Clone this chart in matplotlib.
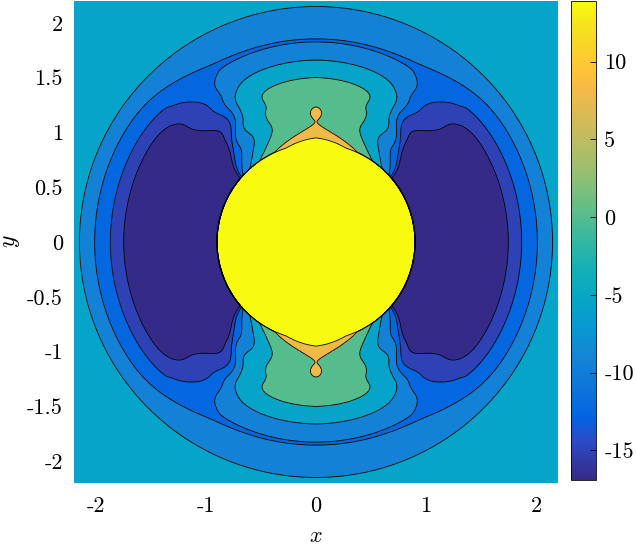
import numpy as np
import matplotlib
matplotlib.use("Agg")
import matplotlib.pyplot as plt
from matplotlib.colors import LinearSegmentedColormap, Normalize
from matplotlib.cm import ScalarMappable

# parula anchors (index out of 63 -> rgb)
parula_idx = [0, 5, 8, 12, 16, 20, 24, 28, 32, 36, 40, 44, 48, 52, 54, 56, 58, 60, 63]
parula_rgb = [
    (0.2081, 0.1663, 0.5292), (0.1707, 0.2919, 0.7792), (0.0117, 0.3875, 0.8820),
    (0.0498, 0.4586, 0.8641), (0.0793, 0.5200, 0.8312), (0.0343, 0.5966, 0.8199),
    (0.0228, 0.6535, 0.7768), (0.0843, 0.6928, 0.7062), (0.2178, 0.7250, 0.6193),
    (0.3953, 0.7459, 0.5244), (0.5709, 0.7485, 0.4494), (0.7184, 0.7411, 0.3905),
    (0.8507, 0.7299, 0.3360), (0.9739, 0.7314, 0.2666), (0.9990, 0.7653, 0.2164),
    (0.9880, 0.8066, 0.1794), (0.9697, 0.8481, 0.1475), (0.9589, 0.8949, 0.1132),
    (0.9763, 0.9831, 0.0538),
]
parula = LinearSegmentedColormap.from_list(
    "parula", [(i / 63, c) for i, c in zip(parula_idx, parula_rgb)])

# colour range and contour levels
v_min, v_max = -16.9, 13.9
levels = [-15, -12.5, -9.5, -5.5, 0, 8, 13.5]
band_values = [-16.9, -15, -12.5, -9.5, -5.5, 0, 8, 13.9]
cbar_ticks = [-15, -10, -5, 0, 5, 10]
x_ticks = [-2, -1, 0, 1, 2]
y_ticks = [-2, -1.5, -1, -0.5, 0, 0.5, 1, 1.5, 2]

# field shape parameters (estimated from the contours)
disc_r, outer_r = 0.9, 2.15
base_low, base_rise, ring_r, ring_w = -17.0, 9.5, 1.88, 0.1
far_amp, far_len, far_pow = 24.5, 0.8, 3.4
near_amp, near_len = 13.0, 0.065
bubble_amp, bubble_y, bubble_w = 4.0, 1.185, 0.05
outer_jump = 5.0


def sig(z):
    return 0.5 * (1 + np.tanh(0.5 * z))


def smooth(z):
    z = np.clip(z, 0, 1)
    return z * z * (3 - 2 * z)


n = 1400
grid = np.linspace(-2.2, 2.2, n)
X, Y = np.meshgrid(grid, grid)
r = np.hypot(X, Y)
phi = np.degrees(np.arctan2(np.abs(Y), np.abs(X)))
u = np.clip(r - disc_r, 0, None)

base = base_low + base_rise * sig((r - ring_r) / ring_w)
t_far = far_amp * np.exp(-(u / far_len) ** far_pow)
t_near = near_amp * np.exp(-u / near_len)
wiggle = 0.6 * np.exp(-((r - 1.94) / 0.07) ** 2) - 1.0 * np.exp(-((r - 1.84) / 0.025) ** 2)

# broad angular ramp towards the y axis (with a waist near r = 1.1)
c2 = 59 + 4 * np.exp(-((r - 1.1) / 0.1) ** 2) - 24 * smooth((r - 1.29) / 0.3)
s2 = sig((phi - c2) / 12) / sig((90 - c2) / 12)
# sharp edge of the side lobes, with a soft shoulder above them
c1 = 41 + 17 * smooth((r - 0.9) / 0.55) - 10 * smooth((r - 1.55) / 0.3)
w1 = 0.8 + 4 * ((r - 0.9) / 0.8) ** 2
foot = 0.25 * smooth((r - 0.95) / 0.3)
s1 = foot * sig((phi - 40) / 3) + (1 - foot) * sig((phi - c1) / w1)

bubble = bubble_amp * np.exp(-((X / bubble_w) ** 2 + ((np.abs(Y) - bubble_y) / bubble_w) ** 2))

f = base + (t_far + t_near + wiggle) * s1 * s2 + bubble
f = f + outer_jump * sig((r - outer_r) / 0.004)
f = np.where(r < disc_r, v_max, f)
f = np.clip(f, v_min, v_max)

plt.rcParams["font.family"] = "cmr10"
plt.rcParams["mathtext.fontset"] = "cm"
plt.rcParams["axes.unicode_minus"] = False
plt.rcParams["axes.formatter.use_mathtext"] = False

norm = Normalize(v_min, v_max)
band_colors = [parula(norm(v)) for v in band_values]

fig = plt.figure(figsize=(6.36, 5.46), dpi=100)
ax = fig.add_axes([74 / 636, 1 - 483 / 546, 484 / 636, 482 / 546])
cax = fig.add_axes([571 / 636, 1 - 480 / 546, 25 / 636, 479 / 546])

ax.contourf(X, Y, f, levels=[v_min - 1] + levels + [v_max + 1], colors=band_colors)
ax.contour(X, Y, f, levels=levels, colors="black", linewidths=0.6,
           linestyles="solid")

ax.set_xlim(-2.2, 2.2)
ax.set_ylim(-2.2, 2.2)
ax.set_xticks(x_ticks)
ax.set_xticklabels([f"{t:g}" for t in x_ticks])
ax.set_yticks(y_ticks)
ax.set_yticklabels([f"{t:g}" for t in y_ticks])
ax.tick_params(axis="x", length=0, labelsize=16, pad=10)
ax.tick_params(axis="y", length=0, labelsize=16, pad=8)
for s in ax.spines.values():
    s.set_visible(False)

# axis labels placed directly so they stay inside the canvas
fig.text(316 / 636, 1 - 542 / 546, "$x$", fontsize=16, ha="center", va="baseline")
fig.text(11 / 636, 1 - 241 / 546, "$y$", fontsize=17, ha="center", va="center",
         rotation=90)

sm = ScalarMappable(norm=norm, cmap=parula)
cb = fig.colorbar(sm, cax=cax, ticks=cbar_ticks)
cb.ax.set_yticklabels([f"{t:g}" for t in cbar_ticks])
cb.ax.tick_params(direction="in", length=4, width=0.6, labelsize=16, pad=6)
cb.outline.set_linewidth(0.6)

fig.savefig("out.png", dpi=100)
